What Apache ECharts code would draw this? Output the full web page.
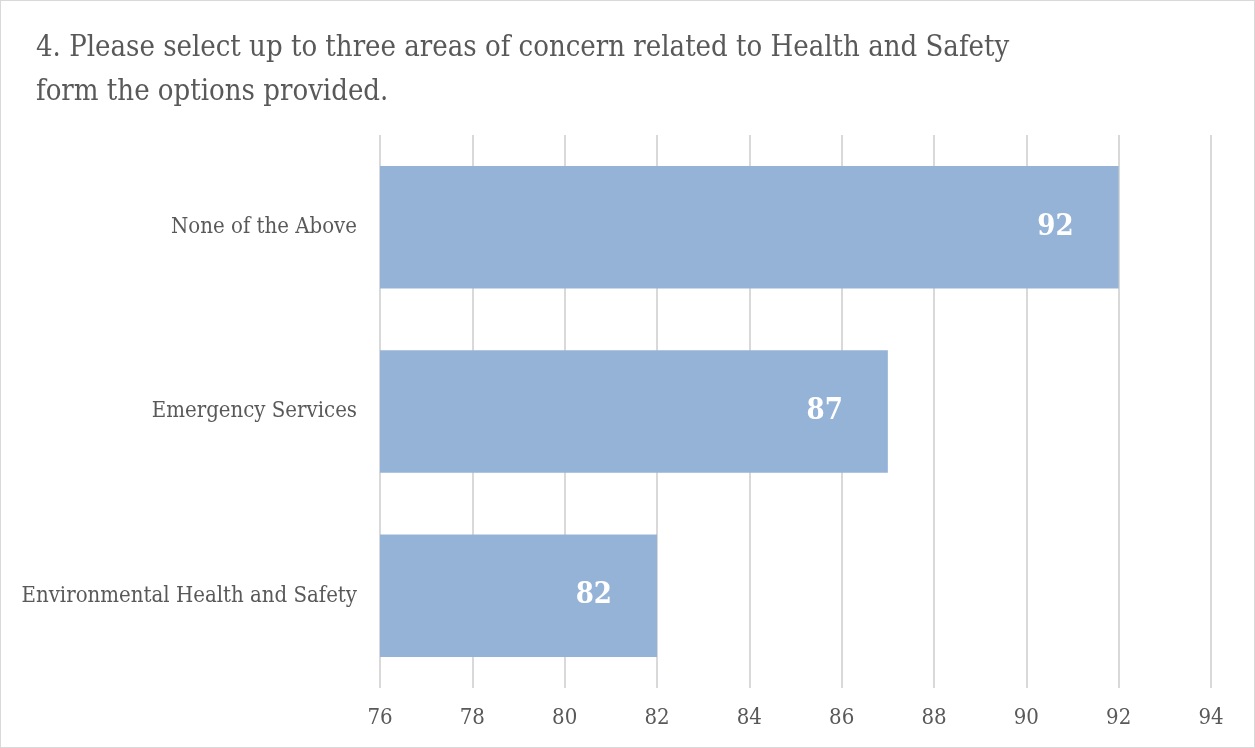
<!DOCTYPE html>
<html>
<head>
<meta charset="utf-8">
<script src="https://cdn.jsdelivr.net/npm/echarts@6/dist/echarts.min.js"></script>
<style>
  html, body { margin: 0; padding: 0; background: #fff; }
  #chart { width: 1253px; height: 746px; border: 1px solid #d9d9d9; }
</style>
</head>
<body>
<div id="chart"></div>
<script>
// Survey responses: areas of concern for Health and Safety
const categories = ['Environmental Health and Safety', 'Emergency Services', 'None of the Above'];
const responses = [82, 87, 92];
const axisMin = 76;
const axisMax = 94;
const axisStep = 2;

const FONT = '"DejaVu Serif Condensed", "Liberation Serif", serif';
const chart = echarts.init(document.getElementById('chart'));
chart.setOption({
  animation: false,
  title: {
    text: '4. Please select up to three areas of concern related to Health and Safety\nform the options provided.',
    left: 30,
    top: 20,
    textStyle: {
      fontFamily: FONT,
      fontSize: 29,
      fontWeight: 'normal',
      color: '#595959',
      lineHeight: 44
    }
  },
  grid: { left: 379, right: 43, top: 134, bottom: 59, containLabel: false },
  xAxis: {
    type: 'value',
    min: axisMin,
    max: axisMax,
    interval: axisStep,
    axisLine: { show: false },
    axisTick: { show: false },
    splitLine: { lineStyle: { color: '#d9d9d9', width: 2 } },
    axisLabel: {
      margin: 19,
      fontFamily: FONT,
      fontSize: 22,
      color: '#595959'
    }
  },
  yAxis: {
    type: 'category',
    data: categories,
    axisLine: { show: false },
    axisTick: { show: false },
    axisLabel: {
      margin: 23,
      fontFamily: FONT,
      fontSize: 22,
      color: '#595959'
    }
  },
  series: [{
    type: 'bar',
    data: responses,
    barCategoryGap: '33.5%',
    itemStyle: { color: '#95b3d7' },
    label: {
      show: true,
      position: 'insideRight',
      distance: 45,
      fontFamily: FONT,
      fontSize: 29,
      fontWeight: 'bold',
      color: '#ffffff'
    }
  }]
});
</script>
</body>
</html>
